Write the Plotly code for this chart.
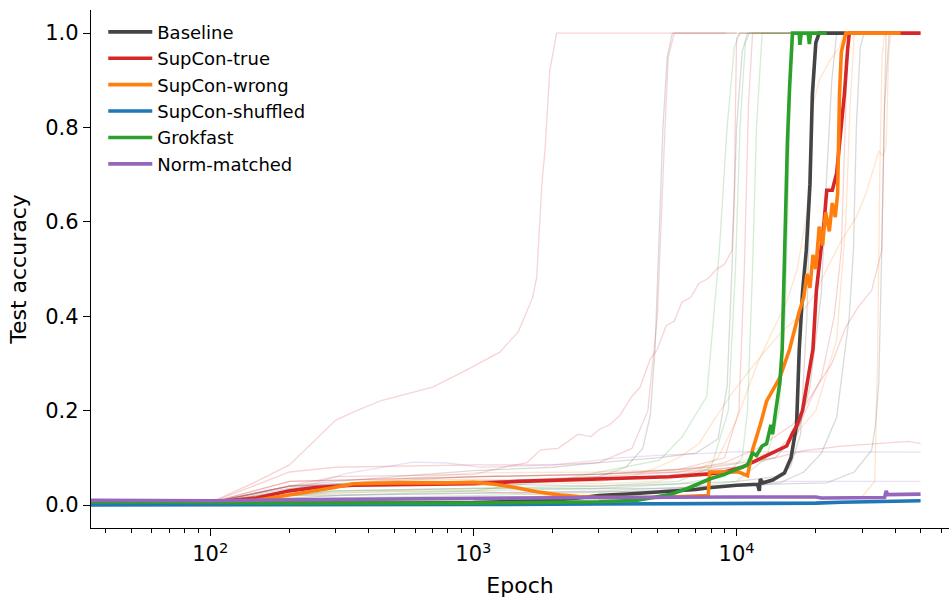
import plotly.graph_objects as go

# ---------------- data ----------------
# Bold summary curves
baseline_ep = [35, 100, 200, 500, 1000, 1500, 2000, 2500, 3000, 4000, 5000, 6000, 7000, 8000, 9000,
               10000, 11000, 12000, 12200, 12300, 12600, 13700, 15200, 16100, 16900, 17300, 17800,
               18400, 19000, 19400, 20000, 20600, 26000]
baseline_acc = [0.005, 0.004, 0.004, 0.004, 0.005, 0.007, 0.010, 0.015, 0.020, 0.024, 0.027, 0.030,
                0.033, 0.037, 0.040, 0.042, 0.043, 0.044, 0.030, 0.055, 0.047, 0.053, 0.068, 0.10,
                0.17, 0.33, 0.45, 0.54, 0.68, 0.87, 0.98, 1.0, 1.0]

suptrue_ep = [35, 100, 150, 200, 250, 350, 500, 1000, 1500, 2350, 3500, 5560, 7900, 9000, 10500,
              12000, 13300, 14600, 15500, 16300, 17000, 17800, 18900, 19500, 20100, 21000, 21500,
              22000, 23100, 24000, 24600, 25700, 26400, 26800, 50000]
suptrue_acc = [0.005, 0.005, 0.015, 0.030, 0.037, 0.042, 0.043, 0.045, 0.050, 0.053, 0.056, 0.060,
               0.066, 0.070, 0.080, 0.095, 0.106, 0.117, 0.125, 0.152, 0.170, 0.20, 0.29, 0.33,
               0.455, 0.54, 0.60, 0.667, 0.667, 0.703, 0.767, 0.873, 0.964, 1.0, 1.0]

supwrong_ep = [35, 100, 150, 200, 290, 350, 500, 800, 1000, 1200, 1410, 1740, 2140, 2500, 3000,
               5000, 7000, 7800, 7900, 9000, 10200, 11000, 11500, 12300, 13000, 14600, 15900, 17300,
               18000, 18500, 19000, 19500, 20000, 20600, 21200, 21800, 22500, 23100, 23700, 24200,
               24600, 25000, 26000, 42000]
supwrong_acc = [0.005, 0.005, 0.010, 0.021, 0.036, 0.045, 0.047, 0.047, 0.048, 0.044, 0.038, 0.028,
                0.021, 0.018, 0.016, 0.016, 0.018, 0.020, 0.070, 0.070, 0.070, 0.062, 0.117, 0.17,
                0.22, 0.27, 0.33, 0.41, 0.44, 0.49, 0.46, 0.53, 0.50, 0.59, 0.55, 0.62, 0.58, 0.64,
                0.61, 0.66, 0.87, 0.96, 1.0, 1.0]

supshuf_ep = [35, 300, 1000, 3000, 10000, 20000, 25000, 35000, 50000]
supshuf_acc = [0.000, 0.000, 0.001, 0.002, 0.003, 0.004, 0.006, 0.008, 0.009]

grokfast_ep = [35, 100, 200, 1000, 2000, 3000, 4200, 5560, 6500, 7900, 9000, 10500, 11000, 11500,
               11900, 12500, 13000, 13500, 13700, 14000, 14600, 14900, 15200, 15600, 15900, 16100,
               16300, 17300, 17400, 17600, 18700, 18900, 19100, 22000]
grokfast_acc = [0.007, 0.005, 0.004, 0.004, 0.005, 0.007, 0.010, 0.022, 0.035, 0.055, 0.065, 0.080,
                0.085, 0.110, 0.105, 0.125, 0.130, 0.170, 0.150, 0.190, 0.26, 0.33, 0.54, 0.77,
                0.886, 0.96, 1.0, 1.0, 0.975, 1.0, 1.0, 0.977, 1.0, 1.0]

normm_ep = [35, 100, 200, 500, 1000, 3000, 10000, 20000, 21000, 35000, 36500, 37000, 37500, 50000]
normm_acc = [0.010, 0.009, 0.011, 0.013, 0.015, 0.016, 0.017, 0.017, 0.015, 0.015, 0.016, 0.030,
             0.022, 0.023]

# Faint per-seed curves
base_seed_ep = [
    [35, 100, 200, 300, 1000, 2000, 3000, 3800, 4400, 4700, 4900, 5050, 5250, 5450, 5700, 10000],
    [35, 100, 200, 300, 1000, 2000, 3000, 5000, 7000, 8500, 9200, 9600, 10000, 10500, 11000, 20000],
    [35, 100, 200, 400, 1000, 3000, 6000, 10000, 14000, 16000, 17500, 18500, 19300, 20200, 30000],
    [35, 100, 200, 1000, 5000, 10000, 14600, 18000, 21000, 24000, 26800, 27800, 28500, 29500, 30500, 40000],
    [35, 100, 300, 1000, 5000, 10000, 15000, 22000, 28000, 32600, 33700, 34700, 35600, 36500, 38000, 40000],
    [35, 100, 200, 1000, 3000, 8000, 14000, 17000, 19000, 21000, 22000, 23000, 24000, 40000],
]
base_seed_acc = [
    [0.008, 0.006, 0.035, 0.045, 0.050, 0.055, 0.060, 0.080, 0.12, 0.19, 0.33, 0.55, 0.80, 0.95, 1.0, 1.0],
    [0.008, 0.006, 0.040, 0.050, 0.073, 0.080, 0.090, 0.100, 0.110, 0.14, 0.25, 0.50, 0.80, 0.96, 1.0, 1.0],
    [0.008, 0.005, 0.030, 0.045, 0.045, 0.040, 0.045, 0.050, 0.060, 0.080, 0.15, 0.40, 0.80, 1.0, 1.0],
    [0.008, 0.005, 0.020, 0.025, 0.030, 0.040, 0.047, 0.070, 0.110, 0.186, 0.40, 0.54, 0.80, 0.97, 1.0, 1.0],
    [0.008, 0.005, 0.030, 0.035, 0.035, 0.040, 0.045, 0.047, 0.070, 0.116, 0.17, 0.26, 0.54, 0.85, 1.0, 1.0],
    [0.008, 0.005, 0.040, 0.060, 0.065, 0.080, 0.100, 0.15, 0.25, 0.45, 0.70, 0.90, 1.0, 1.0],
]

red_seed_ep = [
    [35, 100, 150, 200, 300, 360, 450, 700, 940, 1260, 1480, 1680, 1740, 1820, 1870, 1950, 2070, 9100],
    [35, 100, 200, 300, 1000, 2000, 3000, 4000, 4600, 5000, 5300, 5500, 5800, 20000],
    [35, 100, 200, 300, 1000, 1300, 1600, 1800, 2100, 2500, 2800, 3000, 3300, 3600, 4000, 4300, 4700,
     5000, 5400, 5800, 6200, 6700, 7200, 7800, 8400, 9000, 9600, 9800, 9900, 10000, 10300, 25000],
    [35, 100, 200, 1000, 3000, 6000, 9000, 10200, 10700, 11100, 11500, 30000],
    [35, 100, 200, 500, 1000, 3000, 6000, 10000, 14000, 18000, 25000, 35000, 45000, 50000],
    [35, 100, 200, 1000, 3000, 6000, 9000, 12000, 16300, 19500, 23000, 26000, 29000, 32600, 35600,
     36300, 37000, 50000],
    [35, 100, 200, 1000, 5000, 10000, 14000, 17000, 19000, 21000, 23500, 25000, 25800, 26500, 45000],
]
red_seed_acc = [
    [0.008, 0.005, 0.050, 0.085, 0.18, 0.20, 0.222, 0.25, 0.286, 0.324, 0.367, 0.44, 0.483, 0.68, 0.75,
     0.92, 1.0, 1.0],
    [0.008, 0.005, 0.070, 0.080, 0.085, 0.085, 0.090, 0.12, 0.20, 0.40, 0.75, 0.95, 1.0, 1.0],
    [0.008, 0.005, 0.040, 0.060, 0.065, 0.080, 0.090, 0.117, 0.12, 0.15, 0.145, 0.16, 0.17, 0.19, 0.23,
     0.25, 0.31, 0.33, 0.38, 0.39, 0.43, 0.44, 0.47, 0.48, 0.50, 0.51, 0.54, 0.66, 0.84, 0.99, 1.0, 1.0],
    [0.008, 0.005, 0.050, 0.060, 0.065, 0.075, 0.10, 0.20, 0.50, 0.85, 1.0, 1.0],
    [0.008, 0.005, 0.050, 0.055, 0.060, 0.065, 0.070, 0.080, 0.100, 0.115, 0.125, 0.130, 0.135, 0.130],
    [0.008, 0.005, 0.040, 0.050, 0.060, 0.070, 0.090, 0.12, 0.17, 0.237, 0.30, 0.377, 0.42, 0.455, 0.54,
     0.80, 1.0, 1.0],
    [0.008, 0.005, 0.040, 0.050, 0.060, 0.080, 0.110, 0.16, 0.22, 0.27, 0.40, 0.54, 0.80, 1.0, 1.0],
]

orange_seed_ep = [
    [35, 100, 200, 400, 1000, 2000, 3000, 4000, 5000, 6000, 7200, 8200, 9700, 11000, 13000, 15000,
     17300, 20000, 22000, 25000, 28500, 31000, 34700, 36000, 37000, 37800, 38500, 50000],
    [35, 100, 300, 1000, 3000, 5000, 7000, 8500, 10000, 12000, 14000, 15500, 17000, 18500, 19400,
     20600, 22500, 24600, 25500, 50000],
    [35, 100, 200, 500, 1000, 2000, 5000, 10000, 20000, 30000, 33500, 34300, 35000, 35700, 36500, 50000],
    [35, 100, 200, 400, 1000, 3000, 6000, 10000, 15000, 20000, 24000, 26000, 27000, 28000, 45000],
]
orange_seed_acc = [
    [0.008, 0.005, 0.030, 0.050, 0.055, 0.050, 0.050, 0.060, 0.080, 0.10, 0.13, 0.18, 0.24, 0.28, 0.33,
     0.37, 0.40, 0.45, 0.50, 0.56, 0.61, 0.66, 0.75, 0.74, 0.76, 0.95, 1.0, 1.0],
    [0.008, 0.005, 0.040, 0.050, 0.045, 0.050, 0.070, 0.10, 0.18, 0.30, 0.38, 0.43, 0.50, 0.62, 0.84,
     0.90, 0.94, 0.97, 1.0, 1.0],
    [0.008, 0.005, 0.020, 0.030, 0.030, 0.020, 0.015, 0.015, 0.015, 0.018, 0.05, 0.30, 0.70, 0.95, 1.0, 1.0],
    [0.008, 0.005, 0.030, 0.050, 0.068, 0.070, 0.075, 0.090, 0.12, 0.20, 0.35, 0.60, 0.85, 1.0, 1.0],
]

green_seed_ep = [
    [35, 100, 200, 300, 1000, 2300, 5100, 6200, 7700, 8600, 9200, 9800, 10300, 16000],
    [35, 100, 300, 1000, 3000, 6000, 9000, 10500, 11000, 11500, 11900, 12500, 20000],
    [35, 100, 300, 1000, 5000, 10000, 13000, 14500, 15300, 15700, 16000, 16500, 22000],
    [35, 100, 300, 1000, 3000, 6000, 8000, 9300, 9900, 10300, 10800, 11200, 20000],
]
green_seed_acc = [
    [0.008, 0.005, 0.020, 0.027, 0.030, 0.057, 0.095, 0.144, 0.23, 0.54, 0.80, 0.97, 1.0, 1.0],
    [0.008, 0.005, 0.020, 0.030, 0.035, 0.045, 0.060, 0.10, 0.20, 0.50, 0.80, 1.0, 1.0],
    [0.008, 0.005, 0.015, 0.020, 0.030, 0.050, 0.10, 0.20, 0.40, 0.65, 0.90, 1.0, 1.0],
    [0.008, 0.005, 0.030, 0.035, 0.040, 0.050, 0.080, 0.20, 0.50, 0.80, 0.98, 1.0, 1.0],
]

purple_seed_ep = [
    [35, 100, 200, 330, 590, 800, 1060, 2000, 3600, 5000, 8000, 10000, 50000],
    [35, 100, 300, 1000, 3000, 8000, 15000, 50000],
]
purple_seed_acc = [
    [0.008, 0.005, 0.030, 0.067, 0.091, 0.089, 0.080, 0.085, 0.100, 0.105, 0.110, 0.113, 0.112],
    [0.008, 0.005, 0.020, 0.025, 0.030, 0.040, 0.050, 0.050],
]

blue_seed_ep = [[35, 1000, 10000, 50000]]
blue_seed_acc = [[0.002, 0.002, 0.004, 0.010]]

names = ["Baseline", "SupCon-true", "SupCon-wrong", "SupCon-shuffled", "Grokfast", "Norm-matched"]
colors = ["#444444", "#d62728", "#ff7f0e", "#1f77b4", "#2ca02c", "#9467bd"]
faint = ["rgba(68,68,68,0.2)", "rgba(214,39,40,0.2)", "rgba(255,127,14,0.2)",
         "rgba(31,119,180,0.2)", "rgba(44,160,44,0.2)", "rgba(148,103,189,0.2)"]

x_tick_vals = [100, 1000, 10000]
x_tick_text = ["10<sup>2</sup>", "10<sup>3</sup>", "10<sup>4</sup>"]
x_minor_vals = [40, 50, 60, 70, 80, 90, 200, 300, 400, 500, 600, 700, 800, 900,
                2000, 3000, 4000, 5000, 6000, 7000, 8000, 9000, 20000, 30000, 40000, 50000, 60000]
y_tick_vals = [0.0, 0.2, 0.4, 0.6, 0.8, 1.0]

# ---------------- figure ----------------
fig = go.Figure()

seed_groups = [(base_seed_ep, base_seed_acc, faint[0]),
               (red_seed_ep, red_seed_acc, faint[1]),
               (orange_seed_ep, orange_seed_acc, faint[2]),
               (blue_seed_ep, blue_seed_acc, faint[3]),
               (green_seed_ep, green_seed_acc, faint[4]),
               (purple_seed_ep, purple_seed_acc, faint[5])]
for eps, accs, col in seed_groups:
    for e, a in zip(eps, accs):
        fig.add_trace(go.Scatter(x=e, y=a, mode="lines", line=dict(color=col, width=1.3),
                                 showlegend=False, hoverinfo="skip"))

main = [(baseline_ep, baseline_acc), (suptrue_ep, suptrue_acc), (supwrong_ep, supwrong_acc),
        (supshuf_ep, supshuf_acc), (grokfast_ep, grokfast_acc), (normm_ep, normm_acc)]
for (e, a), n, c in zip(main, names, colors):
    fig.add_trace(go.Scatter(x=e, y=a, mode="lines", name=n, line=dict(color=c, width=3.6)))

font_family = "DejaVu Sans, sans-serif"
fig.update_layout(
    width=949, height=598,
    margin=dict(l=91, r=0, t=10, b=70),
    paper_bgcolor="white", plot_bgcolor="white",
    font=dict(family=font_family, color="black", size=21),
    legend=dict(x=0.0143, y=0.993, xanchor="left", yanchor="top",
                font=dict(size=18, family=font_family), bgcolor="rgba(0,0,0,0)",
                tracegroupgap=0, itemwidth=44),
)
fig.update_xaxes(
    type="log", range=[1.547, 4.807],
    tickmode="array", tickvals=x_tick_vals, ticktext=x_tick_text,
    ticks="outside", ticklen=7, tickwidth=1.3, tickcolor="black",
    minor=dict(tickmode="array", tickvals=x_minor_vals, ticks="outside", ticklen=4,
               tickwidth=1.0, tickcolor="black", showgrid=False),
    showline=True, linecolor="black", linewidth=1.3, mirror=False,
    showgrid=False, zeroline=False,
    tickfont=dict(size=21),
    title=dict(text="Epoch", font=dict(size=22), standoff=12),
)
fig.update_yaxes(
    range=[-0.0487, 1.049],
    tickmode="array", tickvals=y_tick_vals, tickformat=".1f",
    ticks="outside", ticklen=7, tickwidth=1.3, tickcolor="black",
    showline=True, linecolor="black", linewidth=1.3, mirror=False,
    showgrid=False, zeroline=False,
    tickfont=dict(size=21),
    title=dict(text="Test accuracy", font=dict(size=22), standoff=12),
)

fig.write_html("out.html")
